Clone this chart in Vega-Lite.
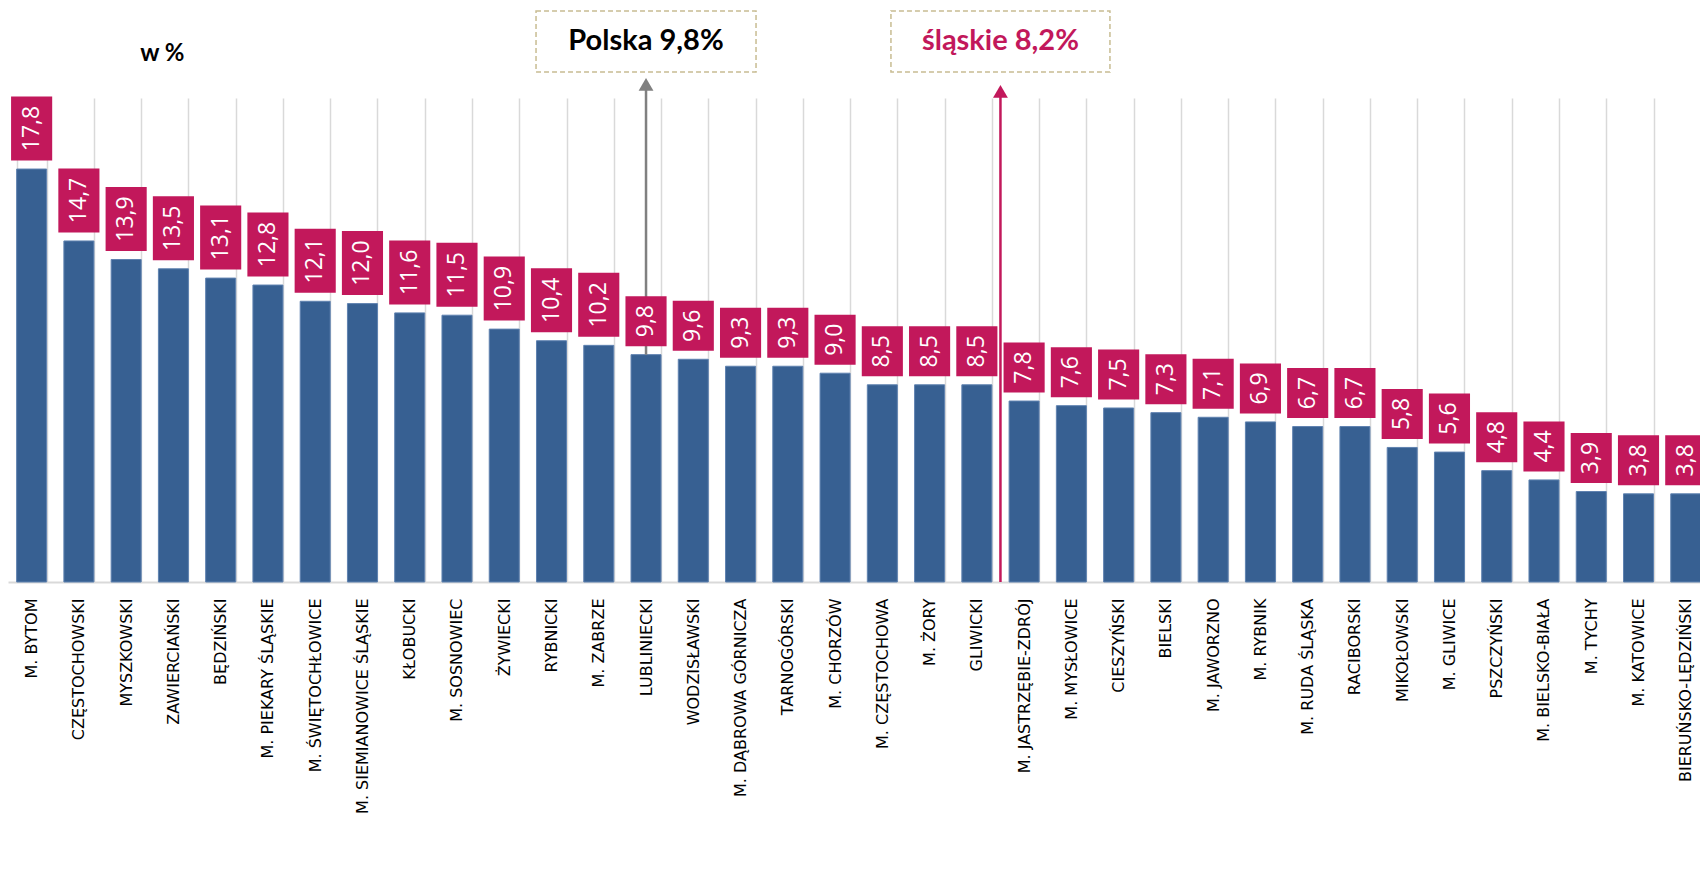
{
  "$schema": "https://vega.github.io/schema/vega-lite/v6.json",
  "width": 1692,
  "height": 484,
  "autosize": {"type": "none"},
  "padding": {"left": 8, "top": 98, "right": 0, "bottom": 295},
  "background": "#ffffff",
  "config": {
    "view": {"stroke": null},
    "locale": {"number": {"decimal": ",", "thousands": " ", "grouping": [3], "currency": ["", ""]}}
  },
  "datasets": {
    "powiaty": [
      {"name": "M. BYTOM", "value": 17.8},
      {"name": "CZĘSTOCHOWSKI", "value": 14.7},
      {"name": "MYSZKOWSKI", "value": 13.9},
      {"name": "ZAWIERCIAŃSKI", "value": 13.5},
      {"name": "BĘDZIŃSKI", "value": 13.1},
      {"name": "M. PIEKARY ŚLĄSKIE", "value": 12.8},
      {"name": "M. ŚWIĘTOCHŁOWICE", "value": 12.1},
      {"name": "M. SIEMIANOWICE ŚLĄSKIE", "value": 12.0},
      {"name": "KŁOBUCKI", "value": 11.6},
      {"name": "M. SOSNOWIEC", "value": 11.5},
      {"name": "ŻYWIECKI", "value": 10.9},
      {"name": "RYBNICKI", "value": 10.4},
      {"name": "M. ZABRZE", "value": 10.2},
      {"name": "LUBLINIECKI", "value": 9.8},
      {"name": "WODZISŁAWSKI", "value": 9.6},
      {"name": "M. DĄBROWA GÓRNICZA", "value": 9.3},
      {"name": "TARNOGÓRSKI", "value": 9.3},
      {"name": "M. CHORZÓW", "value": 9.0},
      {"name": "M. CZĘSTOCHOWA", "value": 8.5},
      {"name": "M. ŻORY", "value": 8.5},
      {"name": "GLIWICKI", "value": 8.5},
      {"name": "M. JASTRZĘBIE-ZDRÓJ", "value": 7.8},
      {"name": "M. MYSŁOWICE", "value": 7.6},
      {"name": "CIESZYŃSKI", "value": 7.5},
      {"name": "BIELSKI", "value": 7.3},
      {"name": "M. JAWORZNO", "value": 7.1},
      {"name": "M. RYBNIK", "value": 6.9},
      {"name": "M. RUDA ŚLĄSKA", "value": 6.7},
      {"name": "RACIBORSKI", "value": 6.7},
      {"name": "MIKOŁOWSKI", "value": 5.8},
      {"name": "M. GLIWICE", "value": 5.6},
      {"name": "PSZCZYŃSKI", "value": 4.8},
      {"name": "M. BIELSKO-BIAŁA", "value": 4.4},
      {"name": "M. TYCHY", "value": 3.9},
      {"name": "M. KATOWICE", "value": 3.8},
      {"name": "BIERUŃSKO-LĘDZIŃSKI", "value": 3.8}
    ],
    "polska": [{"label": "Polska 9,8%", "name": "LUBLINIECKI", "value": 9.8}],
    "slaskie": [{"label": "śląskie 8,2%", "name": "GLIWICKI", "value": 8.2}],
    "unit": [{"label": "w %", "name": "ZAWIERCIAŃSKI"}]
  },
  "encoding": {
    "x": {
      "field": "name",
      "type": "nominal",
      "sort": null,
      "scale": {"range": [0, 1701.4], "paddingInner": 0.365, "paddingOuter": 0.1825},
      "axis": {
        "title": null,
        "labelAngle": -90,
        "labelAlign": "right",
        "labelBaseline": "middle",
        "labelPadding": 16,
        "ticks": false,
        "domainColor": "#d9d9d9",
        "domainWidth": 2,
        "grid": true,
        "gridColor": "#d9d9d9",
        "gridWidth": 1.5,
        "tickBand": "extent",
        "labelFont": "DejaVu Sans",
        "labelFontSize": 16,
        "labelColor": "#000000",
        "labelOverlap": false,
        "labelLimit": 0
      }
    }
  },
  "layer": [
    {
      "data": {"name": "powiaty"},
      "mark": {"type": "bar", "color": "#376092", "stroke": "#5f82b0", "strokeWidth": 1},
      "encoding": {
        "y": {"field": "value", "type": "quantitative", "scale": {"domain": [0, 20.862], "nice": false, "zero": true}, "axis": null}
      }
    },
    {
      "data": {"name": "polska"},
      "mark": {"type": "rule", "color": "#808080", "strokeWidth": 2.5},
      "encoding": {
        "y": {"field": "value", "type": "quantitative"},
        "y2": {"datum": 21.3}
      }
    },
    {
      "data": {"name": "polska"},
      "mark": {"type": "point", "shape": "triangle-up", "size": 220, "filled": true, "color": "#808080", "opacity": 1},
      "encoding": {"y": {"datum": 21.45, "type": "quantitative"}}
    },
    {
      "data": {"name": "slaskie"},
      "mark": {"type": "rule", "color": "#C2185B", "strokeWidth": 2.5, "xOffset": 23.6},
      "encoding": {
        "y": {"datum": 0, "type": "quantitative"},
        "y2": {"datum": 21.0}
      }
    },
    {
      "data": {"name": "slaskie"},
      "mark": {"type": "point", "shape": "triangle-up", "size": 220, "filled": true, "color": "#C2185B", "opacity": 1, "xOffset": 23.6},
      "encoding": {"y": {"datum": 21.15, "type": "quantitative"}}
    },
    {
      "data": {"name": "powiaty"},
      "transform": [{"filter": "datum.value >= 10"}],
      "mark": {"type": "bar", "color": "#C2185B", "width": {"band": 1.37}, "yOffset": -8.5, "y2Offset": -72.5},
      "encoding": {
        "y": {"field": "value", "type": "quantitative"},
        "y2": {"field": "value"}
      }
    },
    {
      "data": {"name": "powiaty"},
      "transform": [{"filter": "datum.value < 10"}],
      "mark": {"type": "bar", "color": "#C2185B", "width": {"band": 1.37}, "yOffset": -8.5, "y2Offset": -58.5},
      "encoding": {
        "y": {"field": "value", "type": "quantitative"},
        "y2": {"field": "value"}
      }
    },
    {
      "data": {"name": "powiaty"},
      "transform": [{"filter": "datum.value >= 10"}],
      "mark": {"type": "text", "angle": 270, "align": "center", "baseline": "middle", "font": "Open Sans", "fontSize": 23, "color": "#ffffff", "yOffset": -40.5},
      "encoding": {
        "y": {"field": "value", "type": "quantitative"},
        "text": {"field": "value", "type": "quantitative", "format": ".1f"}
      }
    },
    {
      "data": {"name": "powiaty"},
      "transform": [{"filter": "datum.value < 10"}],
      "mark": {"type": "text", "angle": 270, "align": "center", "baseline": "middle", "font": "Open Sans", "fontSize": 23, "color": "#ffffff", "yOffset": -33.5},
      "encoding": {
        "y": {"field": "value", "type": "quantitative"},
        "text": {"field": "value", "type": "quantitative", "format": ".1f"}
      }
    },
    {
      "data": {"name": "polska"},
      "mark": {"type": "bar", "width": 220, "fill": "#ffffff", "stroke": "#c8bc92", "strokeWidth": 1.5, "strokeDash": [5, 3]},
      "encoding": {
        "y": {"datum": 21.98, "type": "quantitative"},
        "y2": {"datum": 24.61}
      }
    },
    {
      "data": {"name": "polska"},
      "mark": {"type": "text", "font": "Lato", "fontWeight": "bold", "fontSize": 29, "color": "#000000", "align": "center", "baseline": "middle"},
      "encoding": {
        "y": {"datum": 23.3, "type": "quantitative"},
        "text": {"field": "label"}
      }
    },
    {
      "data": {"name": "slaskie"},
      "mark": {"type": "bar", "width": 219, "fill": "#ffffff", "stroke": "#c8bc92", "strokeWidth": 1.5, "strokeDash": [5, 3], "xOffset": 23.6},
      "encoding": {
        "y": {"datum": 21.98, "type": "quantitative"},
        "y2": {"datum": 24.61}
      }
    },
    {
      "data": {"name": "slaskie"},
      "mark": {"type": "text", "font": "Lato", "fontWeight": "bold", "fontSize": 29, "color": "#C2185B", "align": "center", "baseline": "middle", "xOffset": 23.6},
      "encoding": {
        "y": {"datum": 23.3, "type": "quantitative"},
        "text": {"field": "label"}
      }
    },
    {
      "data": {"name": "unit"},
      "mark": {"type": "text", "font": "Lato", "fontWeight": "bold", "fontSize": 24, "color": "#000000", "align": "center", "baseline": "middle", "xOffset": -11},
      "encoding": {
        "y": {"datum": 22.76, "type": "quantitative"},
        "text": {"field": "label"}
      }
    }
  ]
}
